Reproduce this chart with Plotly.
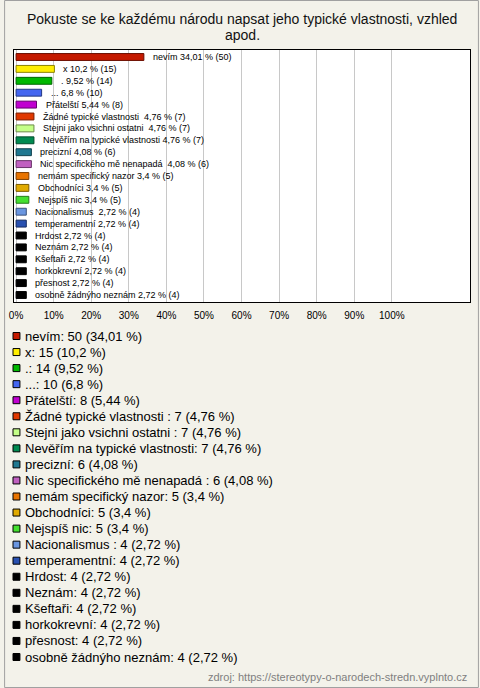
import plotly.graph_objects as go

# ---- data ----
categories = ["nevím", "x", ".", "...", "Přátelští", "Žádné typické vlastnosti ",
              "Stejni jako vsichni ostatni ", "Nevěřím na typické vlastnosti",
              "precizní", "Nic specifického mě nenapadá ", "nemám specifický nazor",
              "Obchodníci", "Nejspíš nic", "Nacionalismus ", "temperamentní",
              "Hrdost", "Neznám", "Kšeftaři", "horkokrevní", "přesnost",
              "osobně žádnýho neznám"]
counts = [50, 15, 14, 10, 8, 7, 7, 7, 6, 6, 5, 5, 5, 4, 4, 4, 4, 4, 4, 4, 4]
percents = [34.01, 10.2, 9.52, 6.8, 5.44, 4.76, 4.76, 4.76, 4.08, 4.08, 3.4,
            3.4, 3.4, 2.72, 2.72, 2.72, 2.72, 2.72, 2.72, 2.72, 2.72]
colors = ["#c41a00", "#ffee00", "#00b800", "#4466f0", "#c000d0", "#e03800",
          "#c4ff88", "#008a50", "#207890", "#c060c0", "#e87400", "#e0aa00",
          "#44e030", "#6a96e0", "#2850b0", "#000000", "#000000", "#000000",
          "#000000", "#000000", "#000000"]
tick_vals = [0, 10, 20, 30, 40, 50, 60, 70, 80, 90, 100]
tick_text = [f"{v}%" for v in tick_vals]
title_lines = ["Pokuste se ke každému národu napsat jeho typické vlastnosti, vzhled", "apod."]
source = "zdroj: https://stereotypy-o-narodech-stredn.vyplnto.cz"

W, H = 480, 688
PL, PR, PT, PB = 10, 471, 50, 302
BG = "#f3f2ea"
FONT = "Liberation Sans, Arial, sans-serif"


def fmt(v):
    s = f"{v:.2f}".rstrip("0").rstrip(".")
    return s.replace(".", ",")


def darker(hexc, f=0.55):
    r, g, b = int(hexc[1:3], 16), int(hexc[3:5], 16), int(hexc[5:7], 16)
    return "#%02x%02x%02x" % (int(r * f), int(g * f), int(b * f))


def px_x(px):
    return (px - PL) / (PR - PL)


def px_y(py):
    return (PB - py) / (PB - PT)


fig = go.Figure()
fig.add_trace(go.Bar(
    x=percents, y=categories, orientation="h",
    marker=dict(color=colors, line=dict(color=[darker(c) for c in colors], width=1)),
    width=0.58, showlegend=False, hoverinfo="skip",
))

annotations = []
# bar labels
for c, p, n in zip(categories, percents, counts):
    annotations.append(dict(
        x=p, y=c, xref="x", yref="y", xanchor="left", yanchor="middle",
        xshift=7, showarrow=False, text=f"{c} {fmt(p)} % ({n})",
        font=dict(size=9, color="#000000", family=FONT)))

# title
for i, (line, yc) in enumerate(zip(title_lines, [19, 35])):
    annotations.append(dict(
        x=0.5, y=px_y(yc), xref="paper", yref="paper", xanchor="center",
        yanchor="middle", showarrow=False, text=line,
        font=dict(size=14, color="#111111", family=FONT)))

shapes = []
# legend
row0, step = 336, 16.05
for i, (c, p, n, col) in enumerate(zip(categories, percents, counts, colors)):
    yc = row0 + i * step
    annotations.append(dict(
        x=px_x(19), y=px_y(yc), xref="paper", yref="paper", xanchor="left",
        yanchor="middle", showarrow=False, text=f"{c}: {n} ({fmt(p)} %)",
        font=dict(size=13, color="#000000", family=FONT)))
    shapes.append(dict(
        type="rect", xref="paper", yref="paper",
        x0=px_x(9), x1=px_x(16), y0=px_y(yc - 3.5), y1=px_y(yc + 3.5),
        fillcolor=col, line=dict(color="#000000", width=1)))

# source
annotations.append(dict(
    x=px_x(470), y=px_y(677), xref="paper", yref="paper", xanchor="right",
    yanchor="middle", showarrow=False, text=source,
    font=dict(size=11, color="#808080", family=FONT)))

# outer border
shapes.append(dict(
    type="rect", xref="paper", yref="paper",
    x0=px_x(0.5), x1=px_x(479.5), y0=px_y(0.5), y1=px_y(687.5),
    line=dict(color="#a0a0a0", width=1), fillcolor="rgba(0,0,0,0)", layer="below"))

fig.update_layout(
    width=W, height=H,
    margin=dict(l=PL, r=W - PR, t=PT, b=H - PB, pad=0),
    paper_bgcolor=BG, plot_bgcolor="#ffffff",
    font=dict(family=FONT, size=10, color="#000000"),
    xaxis=dict(range=[-0.55, 120.8], tickvals=tick_vals, ticktext=tick_text,
               showgrid=True, gridcolor="#c8c8c8", gridwidth=1, zeroline=False,
               showline=True, linecolor="#000000", linewidth=1, mirror=True,
               ticks="", ticklabelstandoff=4,
               tickfont=dict(size=10, color="#000000"), fixedrange=True),
    yaxis=dict(autorange="reversed", showticklabels=False, showgrid=False,
               showline=True, linecolor="#000000", linewidth=1, mirror=True,
               ticks="", zeroline=False, fixedrange=True),
    annotations=annotations, shapes=shapes,
    showlegend=False,
)

fig.write_html("out.html", config={"displayModeBar": False},
               post_script="document.body.style.margin='0px';document.body.style.padding='0px';")
